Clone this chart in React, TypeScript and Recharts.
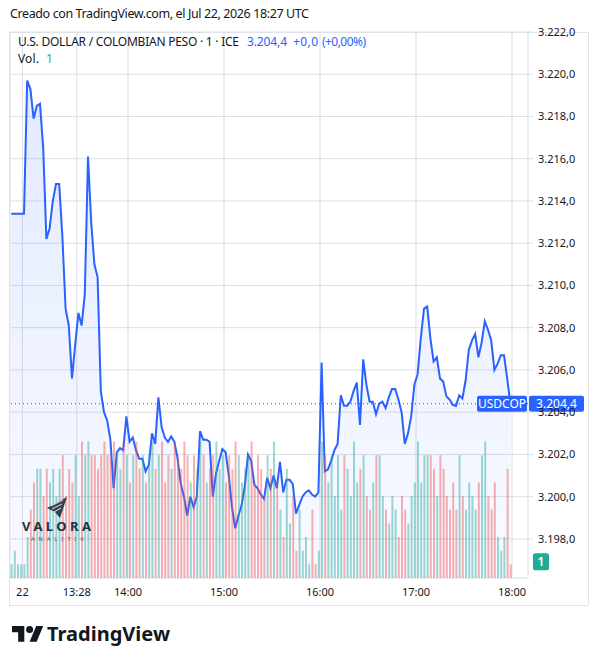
import {
  ComposedChart,
  Area,
  Bar,
  Cell,
  XAxis,
  YAxis,
  CartesianGrid,
  ReferenceLine,
} from 'recharts';

// 2-minute rows, first row at 12:47 (minutes since midnight)
const START_MINUTE = 767;
const STEP_MINUTES = 2;

// USD/COP close
const PRICES = [
  3213.4, 3213.4, 3213.4, 3213.4, 3213.4,
  3219.7, 3219.3, 3217.9, 3218.5, 3218.6,
  3216.5, 3212.2, 3212.7, 3214.0, 3214.8,
  3214.8, 3212.3, 3208.9, 3208.1, 3205.6,
  3207.2, 3208.7, 3208.1, 3209.6, 3216.1,
  3213.0, 3211.0, 3210.4, 3205.0, 3204.0,
  3203.6, 3202.7, 3200.4, 3202.1, 3202.3,
  3202.2, 3203.8, 3202.6, 3202.8, 3202.2,
  3201.8, 3201.8, 3201.2, 3201.5, 3203.0,
  3202.5, 3204.7, 3203.3, 3202.8, 3202.6,
  3202.85, 3202.6, 3201.8, 3200.6, 3200.0,
  3199.1, 3200.0, 3199.5, 3200.0, 3203.1,
  3202.7, 3202.7, 3202.6, 3200.0, 3201.1,
  3201.7, 3202.25, 3202.1, 3201.0, 3199.5,
  3198.5, 3199.1, 3199.6, 3200.5, 3202.0,
  3201.7, 3200.55, 3200.4, 3200.1, 3199.9,
  3200.9, 3200.4, 3201.0, 3200.4, 3201.65,
  3200.2, 3200.8, 3200.8, 3200.6, 3199.2,
  3199.6, 3200.0, 3200.2, 3200.3, 3200.1,
  3200.0, 3200.2, 3206.35, 3201.2, 3201.3,
  3201.7, 3202.2, 3202.5, 3204.8, 3204.3,
  3204.3, 3204.5, 3205.0, 3205.4, 3203.4,
  3206.5, 3205.3, 3204.5, 3204.5, 3203.9,
  3204.4, 3204.5, 3204.2, 3204.7, 3205.1,
  3205.1, 3204.6, 3204.0, 3202.5, 3203.0,
  3203.8, 3205.3, 3205.8, 3207.5, 3208.9,
  3209.0, 3207.5, 3206.4, 3206.6, 3205.6,
  3205.45, 3204.75, 3204.6, 3204.35, 3204.3,
  3204.8, 3204.65, 3205.5, 3206.95, 3207.4,
  3207.7, 3206.6, 3207.3, 3208.3, 3207.9,
  3207.4, 3206.0, 3206.3, 3206.7, 3206.7,
  3205.6, 3204.4,
];

const VOLUMES = [
  1, 2, 1, 1, 1,
  3, 5, 7, 8, 8,
  6, 8, 7, 8, 6,
  8, 9, 6, 8, 7,
  9, 6, 10, 9, 10,
  9, 9, 8, 9, 10,
  9, 9, 10, 9, 8,
  10, 9, 7, 9, 10,
  8, 9, 7, 9, 10,
  8, 9, 10, 7, 9,
  8, 10, 9, 8, 10,
  9, 7, 9, 8, 10,
  9, 7, 8, 9, 10,
  8, 9, 7, 9, 8,
  10, 9, 7, 8, 9,
  10, 7, 9, 8, 6,
  9, 8, 10, 7, 5,
  3, 8, 4, 6, 2,
  5, 2, 3, 1, 5,
  1, 2, 10, 9, 7,
  9, 6, 9, 5, 9,
  8, 6, 10, 7, 8,
  9, 6, 5, 7, 9,
  9, 6, 5, 4, 6,
  5, 3, 6, 5, 4,
  6, 7, 10, 7, 9,
  9, 9, 8, 6, 9,
  8, 6, 5, 7, 5,
  9, 6, 5, 7, 6,
  5, 7, 9, 10, 6,
  5, 7, 3, 2, 3,
  8, 1,
];

const TIME_TICKS = [774, 808, 840, 900, 960, 1020, 1080];
const TIME_LABELS = ['22', '13:28', '14:00', '15:00', '16:00', '17:00', '18:00'];
const PRICE_TICKS = [3198, 3200, 3202, 3204, 3206, 3208, 3210, 3212, 3214, 3216, 3218, 3220, 3222];

const LAST_PRICE = PRICES[PRICES.length - 1];
const LAST_VOL = VOLUMES[VOLUMES.length - 1];

const rows = PRICES.map((price, i) => ({
  t: START_MINUTE + i * STEP_MINUTES,
  price,
  vol: VOLUMES[i],
  up: i === 0 || price >= PRICES[i - 1],
}));

const BLUE = '#2962ff';
const TEAL = '#22ab94';
const TEXT = '#131722';
const GRID = '#dcdfe6';
const FONT = '"Noto Sans", sans-serif';

function fmtPrice(v: number) {
  const [int, dec] = v.toFixed(1).split('.');
  return `${int.replace(/\B(?=(\d{3})+(?!\d))/g, '.')},${dec}`;
}

function fmtTime(t: number) {
  const i = TIME_TICKS.indexOf(t);
  return i >= 0 ? TIME_LABELS[i] : '';
}

function PriceTag(props: any) {
  const vb = props.viewBox;
  if (!vb) return null;
  const right = vb.x + vb.width;
  return (
    <g fontFamily={FONT} fontSize={12}>
      <rect x={right - 51} y={vb.y - 8} width={50} height={16} fill={BLUE} rx={2} />
      <text x={right - 26} y={vb.y + 4.5} fill="#fff" textAnchor="middle">
        USDCOP
      </text>
      <rect x={right + 1} y={vb.y - 8} width={55} height={16} fill={BLUE} rx={2} />
      <text x={right + 28.5} y={vb.y + 4.5} fill="#fff" textAnchor="middle">
        {fmtPrice(LAST_PRICE)}
      </text>
    </g>
  );
}

function VolTag(props: any) {
  const vb = props.viewBox;
  if (!vb) return null;
  const right = vb.x + vb.width;
  return (
    <g fontFamily={FONT} fontSize={12}>
      <rect x={right + 5} y={vb.y - 11} width={16} height={17} fill={TEAL} rx={2} />
      <text x={right + 13} y={vb.y + 2} fill="#fff" textAnchor="middle" fontWeight={600}>
        {LAST_VOL}
      </text>
    </g>
  );
}

export default function App() {
  return (
    <div
      style={{
        position: 'absolute',
        left: 0,
        top: 0,
        width: 598,
        height: 664,
        background: '#fff',
        fontFamily: FONT,
      }}
    >
      {/* chart frame */}
      <div
        style={{
          position: 'absolute',
          left: 9,
          top: 32,
          width: 578,
          height: 572,
          border: '1px solid #e0e3eb',
        }}
      />
      <div style={{ position: 'absolute', left: 0, top: 0 }}>
        <ComposedChart
          width={598}
          height={664}
          data={rows}
          margin={{ top: 32, right: 10, bottom: 61, left: 10 }}
        >
          <defs>
            <linearGradient id="usdcopFill" x1="0" y1="0" x2="0" y2="1">
              <stop offset="0%" stopColor={BLUE} stopOpacity={0.22} />
              <stop offset="100%" stopColor={BLUE} stopOpacity={0.05} />
            </linearGradient>
          </defs>
          <CartesianGrid yAxisId="price" stroke={GRID} />
          <XAxis
            dataKey="t"
            type="number"
            domain={[766.25, 1090]}
            allowDataOverflow
            ticks={TIME_TICKS}
            interval={0}
            tickFormatter={fmtTime}
            height={25}
            axisLine={false}
            tickLine={false}
            tick={{ fill: TEXT, fontSize: 11, fontFamily: FONT }}
            tickMargin={4}
          />
          <YAxis
            yAxisId="price"
            orientation="right"
            width={60}
            domain={[3196.15, 3222]}
            allowDataOverflow
            ticks={PRICE_TICKS}
            interval={0}
            tickFormatter={fmtPrice}
            axisLine={false}
            tickLine={{ stroke: GRID }}
            tickSize={5}
            tickMargin={5}
            tick={{ fill: TEXT, fontSize: 11, fontFamily: FONT, textAnchor: 'start' }}
          />
          <YAxis yAxisId="vol" hide domain={[0, 40]} />
          <Bar yAxisId="vol" dataKey="vol" barSize={2} isAnimationActive={false}>
            {rows.map((r, i) => (
              <Cell key={i} fill={r.up ? 'rgba(38,166,154,0.45)' : 'rgba(239,83,80,0.45)'} />
            ))}
          </Bar>
          <Area
            yAxisId="price"
            type="linear"
            dataKey="price"
            stroke={BLUE}
            strokeWidth={2}
            fill="url(#usdcopFill)"
            dot={false}
            activeDot={false}
            isAnimationActive={false}
          />
          <ReferenceLine
            yAxisId="price"
            y={LAST_PRICE}
            stroke="#4a4e5a"
            strokeDasharray="1 3"
            label={<PriceTag />}
          />
          <ReferenceLine yAxisId="vol" y={LAST_VOL} stroke="none" label={<VolTag />} />
        </ComposedChart>
      </div>

      {/* header, legend and watermarks */}
      <svg
        width={598}
        height={664}
        style={{ position: 'absolute', left: 0, top: 0, pointerEvents: 'none' }}
        fontFamily={FONT}
      >
        <text x={10} y={18} fontSize={12.5} fill={TEXT} textLength={299}>
          Creado con TradingView.com, el Jul 22, 2026 18:27 UTC
        </text>
        <text x={18} y={46} fontSize={12} fill={TEXT} textLength={221}>
          U.S. DOLLAR / COLOMBIAN PESO · 1 · ICE
        </text>
        <text x={247} y={46} fontSize={12} fill={BLUE} textLength={40}>
          {fmtPrice(LAST_PRICE)}
        </text>
        <text x={293} y={46} fontSize={12} fill={BLUE} textLength={25}>
          +0,0
        </text>
        <text x={322} y={46} fontSize={12} fill={BLUE} textLength={44}>
          (+0,00%)
        </text>
        <text x={18} y={63} fontSize={12} fill={TEXT} textLength={21}>
          Vol.
        </text>
        <text x={46} y={63} fontSize={12} fill={TEAL}>
          {LAST_VOL}
        </text>

        {/* Valora Analitik watermark */}
        <g>
          <polygon points="47,508 67,497 60,518 55,512" fill="#33404f" />
          <line x1="51" y1="506" x2="63" y2="500" stroke="#dfe6f2" strokeWidth={1} />
          <line x1="52" y1="509" x2="62" y2="504" stroke="#dfe6f2" strokeWidth={1} />
          <line x1="54" y1="512" x2="61" y2="508" stroke="#dfe6f2" strokeWidth={1} />
          <text x={22} y={531} fontSize={13} fontWeight={700} fill="#27313f" textLength={69}>
            VALORA
          </text>
          <text x={31} y={541} fontSize={5.5} fill="#4b5563" textLength={53}>
            ANALITIK
          </text>
        </g>

        {/* TradingView logo */}
        <g transform="translate(12,622.5) scale(0.88)" fill={TEXT}>
          <path d="M14 22H7V11H0V4h14v18zM28 22h-8l7.5-18h8L28 22z" />
          <circle cx="20" cy="8" r="4" />
        </g>
        <text x={47} y={641} fontSize={20} fontWeight={700} fill={TEXT} textLength={123}>
          TradingView
        </text>
      </svg>
    </div>
  );
}
